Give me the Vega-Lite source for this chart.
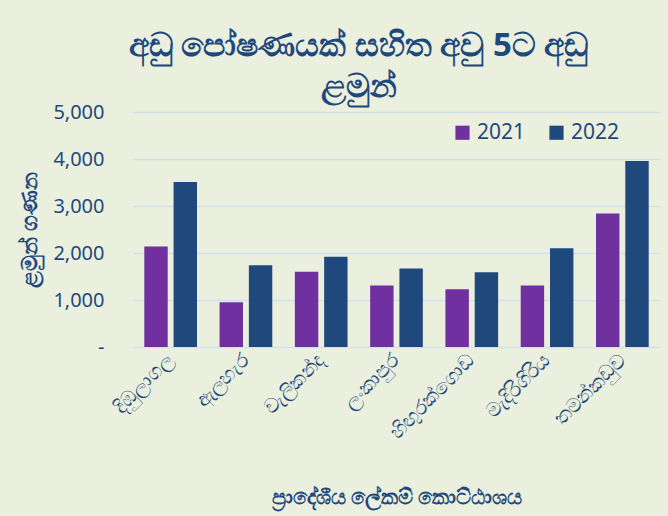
{
  "$schema": "https://vega.github.io/schema/vega-lite/v6.json",
  "width": 527,
  "height": 235,
  "padding": {"left": 18, "top": 30, "right": 10, "bottom": 8},
  "background": "#EBF0DE",
  "title": {
    "text": ["අඩු පෝෂණයක් සහිත අවු 5ට අඩු", "ළමුන්"],
    "fontSize": 33,
    "fontWeight": "bold",
    "color": "#1F497D",
    "lineHeight": 41,
    "anchor": "middle",
    "frame": "group",
    "dx": -38,
    "offset": -2
  },
  "data": {
    "values": [
      {"division": "දිඹුලාගල", "year": "2021", "count": 2140},
      {"division": "දිඹුලාගල", "year": "2022", "count": 3510},
      {"division": "ඇලහැර", "year": "2021", "count": 950},
      {"division": "ඇලහැර", "year": "2022", "count": 1740},
      {"division": "වැලිකන්ද", "year": "2021", "count": 1600},
      {"division": "වැලිකන්ද", "year": "2022", "count": 1920},
      {"division": "ලංකාපුර", "year": "2021", "count": 1310},
      {"division": "ලංකාපුර", "year": "2022", "count": 1670},
      {"division": "හිඟුරක්ගොඩ", "year": "2021", "count": 1230},
      {"division": "හිඟුරක්ගොඩ", "year": "2022", "count": 1590},
      {"division": "මැදිරිගිරිය", "year": "2021", "count": 1310},
      {"division": "මැදිරිගිරිය", "year": "2022", "count": 2100},
      {"division": "තමන්කඩුව", "year": "2021", "count": 2840},
      {"division": "තමන්කඩුව", "year": "2022", "count": 3960}
    ]
  },
  "mark": {"type": "bar"},
  "encoding": {
    "x": {
      "field": "division",
      "type": "nominal",
      "sort": null,
      "scale": {"paddingInner": 0.3, "paddingOuter": 0.15},
      "axis": {
        "title": "ප්‍රාදේශීය ලේකම් කොට්ඨාශය",
        "titleFontSize": 21,
        "titleFontWeight": "bold",
        "titleColor": "#1F497D",
        "titlePadding": 44,
        "labelAngle": -45,
        "labelAlign": "right",
        "labelBaseline": "middle",
        "labelFontSize": 20,
        "labelColor": "#1F497D",
        "labelPadding": 10,
        "domain": false,
        "ticks": false
      }
    },
    "xOffset": {"field": "year", "type": "nominal", "scale": {"paddingInner": 0.2}},
    "y": {
      "field": "count",
      "type": "quantitative",
      "scale": {"domain": [0, 5000]},
      "axis": {
        "title": "ළමුන් ගණන",
        "titleFontSize": 22,
        "titleFontWeight": "bold",
        "titleColor": "#1F497D",
        "titlePadding": 11,
        "values": [0, 1000, 2000, 3000, 4000, 5000],
        "labelExpr": "datum.value == 0 ? '-' : format(datum.value, ',')",
        "labelFontSize": 20,
        "labelColor": "#1F497D",
        "labelPadding": 29,
        "domain": false,
        "ticks": false,
        "gridColor": "#D3DEEE",
        "gridWidth": 1.5
      }
    },
    "color": {
      "field": "year",
      "type": "nominal",
      "scale": {"range": ["#7030A0", "#1F497D"]},
      "legend": {
        "title": null,
        "orient": "none",
        "direction": "horizontal",
        "legendX": 319,
        "legendY": 10,
        "symbolType": "square",
        "symbolSize": 200,
        "labelFontSize": 21,
        "labelColor": "#1F497D",
        "columnPadding": 20
      }
    }
  },
  "config": {"view": {"stroke": null}, "font": "Noto Sans"}
}
